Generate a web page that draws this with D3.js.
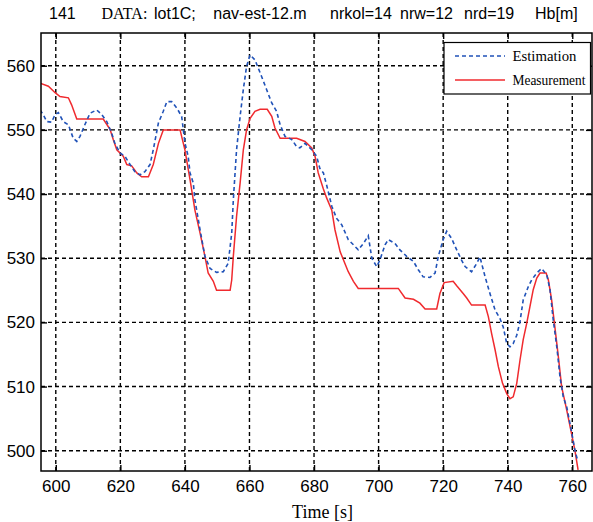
<!DOCTYPE html>
<html><head><meta charset="utf-8">
<script src="https://cdn.jsdelivr.net/npm/d3@7/dist/d3.min.js"></script>
<style>
html,body{margin:0;padding:0;background:#fff;}
svg{display:block;}
</style></head>
<body>
<svg id="chart" width="593" height="522"></svg>
<script>
// ---- data ----
const xTicks = [600, 620, 640, 660, 680, 700, 720, 740, 760];
const yTicks = [500, 510, 520, 530, 540, 550, 560];

const estTime = [595.1,596.1,597.2,598.7,599.8,600.8,602.3,603.9,605.4,606.5,607.5,609.0,610.6,612.7,614.2,615.8,617.3,618.3,619.9,621.4,623.0,624.5,626.1,627.6,629.2,630.2,631.8,633.3,634.4,635.9,637.5,639.0,640.0,641.0,641.6,642.6,643.1,644.7,646.2,647.8,649.8,651.9,653.4,654.5,655.0,656.0,657.1,658.1,659.1,660.2,661.7,663.3,665.3,666.9,668.4,669.5,671.0,673.1,674.6,675.6,677.2,679.3,680.8,681.8,682.9,683.9,685.5,687.0,688.6,690.6,692.2,693.7,695.3,696.8,697.9,699.4,700.4,702.0,703.0,705.1,706.6,708.7,710.8,712.3,713.8,715.9,717.5,718.5,720.0,721.1,722.6,724.2,725.7,726.8,728.8,730.4,731.4,733.0,734.5,736.1,737.6,738.6,739.7,740.7,741.7,742.8,743.8,744.8,746.4,747.4,749.0,750.5,752.1,753.1,754.1,755.2,756.2,757.2,758.3,759.8,760.8,761.5];
const estValue = [553.1,552.4,551.3,551.2,552.4,552.7,551.3,550.8,548.7,548.2,549.0,550.8,552.6,553.1,552.4,551.3,549.5,547.9,546.4,545.9,544.6,543.5,543.0,543.5,544.6,546.9,551.1,552.9,554.4,554.4,553.4,552.1,548.0,545.9,543.3,541.7,539.1,534.4,530.3,528.4,527.8,527.9,529.2,533.9,539.1,546.9,552.1,556.3,559.9,561.7,560.9,558.9,556.3,554.2,552.9,550.8,549.0,548.5,547.4,547.2,547.9,546.9,545.9,544.0,543.3,541.4,538.1,536.2,535.2,532.9,532.1,531.3,532.3,533.5,530.0,528.7,529.7,532.1,532.9,532.3,531.3,530.3,529.5,528.2,527.1,527.0,527.7,530.3,532.9,534.2,533.1,531.3,529.7,528.7,527.9,529.2,530.2,527.1,524.5,521.9,520.6,519.3,516.7,516.2,516.7,518.0,520.1,523.5,525.6,526.6,527.7,528.4,527.4,525.1,520.4,516.2,511.5,508.4,506.8,502.9,500.1,498.8];

const measTime = [595.1,597.7,599.8,601.3,603.9,604.9,606.5,614.7,616.8,617.8,618.9,620.9,622.0,623.5,625.1,626.6,628.7,630.2,631.8,633.3,638.5,640.0,641.6,643.1,644.7,646.2,647.2,648.8,649.8,654.0,654.5,655.0,656.0,657.1,658.1,659.1,660.2,661.7,663.3,665.5,666.9,667.9,669.5,674.6,675.6,677.2,679.3,680.3,681.3,682.9,683.9,685.5,686.5,688.1,690.6,692.2,693.7,706.1,708.2,710.8,712.8,714.4,718.0,719.0,720.3,723.1,724.2,726.2,727.3,728.8,733.0,734.0,735.0,736.1,737.1,738.4,739.7,740.7,741.7,742.8,743.8,744.8,745.9,746.9,747.9,749.0,750.0,751.9,752.6,753.6,754.6,755.7,756.7,758.3,759.8,760.8,761.8];
const measValue = [557.3,556.8,555.8,555.2,555.0,553.9,551.7,551.7,550.1,548.5,546.9,545.9,544.6,544.4,543.3,542.7,542.7,544.6,547.9,550.0,550.0,546.9,542.2,537.5,533.9,530.3,527.7,526.4,525.0,525.0,526.6,530.3,536.5,541.7,546.9,550.0,551.8,552.9,553.2,553.2,552.1,550.3,548.7,548.7,548.5,548.2,547.2,545.9,543.3,540.8,539.4,537.5,534.4,531.0,527.9,526.4,525.3,525.3,523.8,523.6,523.0,522.1,522.1,524.5,526.2,526.4,525.7,524.5,523.8,522.7,522.7,520.9,518.3,515.7,513.1,510.5,508.9,508.1,508.4,510.5,514.1,517.3,519.9,522.5,525.1,526.9,527.7,527.7,526.6,523.5,519.3,514.6,510.0,506.3,502.6,500.1,497.0];

const seriesNames = ["Estimation", "Measurement"];

// ---- layout ----
const L = 41, R = 592, T = 33, B = 471;
const svg = d3.select("#chart");
const x = d3.scaleLinear().domain([595.42, 766.11]).range([L, R]);
const y = d3.scaleLinear().domain([496.84, 565.1]).range([B, T]);

svg.append("defs").append("clipPath").attr("id", "plotclip")
  .append("rect").attr("x", L).attr("y", T).attr("width", R - L).attr("height", B - T);

// grid
const grid = svg.append("g");
grid.selectAll("line.gx").data(xTicks).join("line")
  .attr("x1", d => x(d)).attr("x2", d => x(d)).attr("y1", T).attr("y2", B)
  .attr("stroke", "#000").attr("stroke-width", 1.4).attr("stroke-dasharray", "4,3");
grid.selectAll("line.gy").data(yTicks).join("line")
  .attr("y1", d => y(d)).attr("y2", d => y(d)).attr("x1", L).attr("x2", R)
  .attr("stroke", "#000").attr("stroke-width", 1.4).attr("stroke-dasharray", "4,3");

// axes with inward ticks
const axB = d3.axisBottom(x).tickValues(xTicks).tickSize(-6).tickPadding(9).tickFormat(d3.format("d"));
const axT = d3.axisTop(x).tickValues(xTicks).tickSize(-6).tickFormat("");
const axLf = d3.axisLeft(y).tickValues(yTicks).tickSize(-6).tickPadding(6).tickFormat(d3.format("d"));
const axRt = d3.axisRight(y).tickValues(yTicks).tickSize(-6).tickFormat("");

function styleAxis(g) {
  g.select(".domain").remove();
  g.selectAll(".tick line").attr("stroke", "#000").attr("stroke-width", 1.4);
  g.selectAll(".tick text").attr("fill", "#000")
    .style("font-family", "'Liberation Sans', Arial, sans-serif").style("font-size", "17px");
}
svg.append("g").attr("transform", `translate(0,${B})`).call(axB).call(styleAxis);
svg.append("g").attr("transform", `translate(0,${T})`).call(axT).call(styleAxis);
svg.append("g").attr("transform", `translate(${L},0)`).call(axLf).call(styleAxis);
svg.append("g").attr("transform", `translate(${R},0)`).call(axRt).call(styleAxis);

// lines
const plot = svg.append("g").attr("clip-path", "url(#plotclip)");
const lineGen = d3.line().x(d => x(d[0])).y(d => y(d[1]));
const estPts = estTime.map((t, i) => [t, estValue[i]]);
const measPts = measTime.map((t, i) => [t, measValue[i]]);
plot.append("path").datum(measPts).attr("d", lineGen)
  .attr("fill", "none").attr("stroke", "#f02a2e").attr("stroke-width", 1.5);
plot.append("path").datum(estPts).attr("d", lineGen)
  .attr("fill", "none").attr("stroke", "#2052b8").attr("stroke-width", 1.6).attr("stroke-dasharray", "4,3");

// frame
svg.append("rect").attr("x", L).attr("y", T).attr("width", R - L).attr("height", B - T)
  .attr("fill", "none").attr("stroke", "#000").attr("stroke-width", 1.5);

// legend
const lg = svg.append("g");
lg.append("rect").attr("x", 444).attr("y", 42.5).attr("width", 146.5).attr("height", 51.5)
  .attr("fill", "#fff").attr("stroke", "#000").attr("stroke-width", 1.2);
const lgItems = [
  {name: seriesNames[0], color: "#2052b8", dash: "4,3", yy: 56, w: 64},
  {name: seriesNames[1], color: "#f02a2e", dash: null, yy: 80, w: 73}
];
lgItems.forEach(it => {
  lg.append("line").attr("x1", 455).attr("x2", 505).attr("y1", it.yy).attr("y2", it.yy)
    .attr("stroke", it.color).attr("stroke-width", 1.6).attr("stroke-dasharray", it.dash);
  lg.append("text").attr("x", 512.5).attr("y", it.yy + 5).text(it.name)
    .attr("textLength", it.w).attr("lengthAdjust", "spacingAndGlyphs")
    .style("font-family", "'Liberation Serif', 'Times New Roman', serif").style("font-size", "15px")
    .attr("fill", "#000");
});

// x label
svg.append("text").attr("x", 322.5).attr("y", 518).attr("text-anchor", "middle").text("Time [s]")
  .style("font-family", "'Liberation Serif', 'Times New Roman', serif").style("font-size", "18px");

// title
const titleParts = [
  {t: "141", x: 49, serif: false},
  {t: "DATA:", x: 101.5, serif: true},
  {t: "lot1C;", x: 154, serif: false},
  {t: "nav-est-12.m", x: 213.3, serif: false},
  {t: "nrkol=14", x: 330, serif: false},
  {t: "nrw=12", x: 400, serif: false},
  {t: "nrd=19", x: 464, serif: false},
  {t: "Hb[m]", x: 535, serif: false}
];
const title = svg.append("text").attr("y", 18.5).style("font-size", "16px").attr("fill", "#000");
titleParts.forEach(p => {
  title.append("tspan").attr("x", p.x).text(p.t)
    .style("font-family", p.serif ? "'Liberation Serif', 'Times New Roman', serif" : "'Liberation Sans', Arial, sans-serif");
});
</script>
</body></html>
